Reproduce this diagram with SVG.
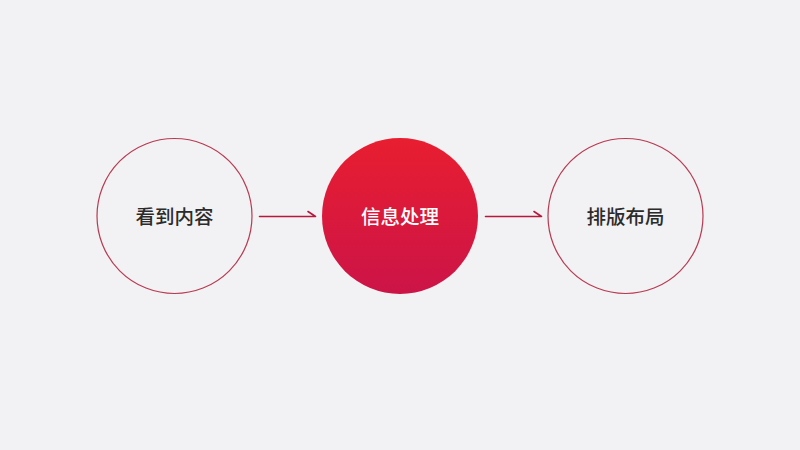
<svg xmlns="http://www.w3.org/2000/svg" width="800" height="450" viewBox="0 0 800 450">
<defs>
<linearGradient id="g" x1="0" y1="0" x2="0" y2="1">
<stop offset="0" stop-color="#e81e30"/>
<stop offset="1" stop-color="#cc1448"/>
</linearGradient>
<style>
.ring{fill:none;stroke:#b83a52;stroke-width:1.2}
.t{font-family:"Noto Sans CJK SC","Noto Sans",sans-serif;font-size:19.5px;font-weight:500;text-anchor:middle;dominant-baseline:central}
.c{fill:none;stroke:#b51a3e;stroke-width:1.6;stroke-linecap:round;stroke-linejoin:round}
</style>
</defs>
<rect width="800" height="450" fill="#f2f1f3"/>
<g id="n1">
<circle class="ring" cx="174.5" cy="216" r="77.5"/>
<text class="t" x="174.5" y="215" fill="#2b2b2b">看到内容</text>
</g>
<g id="n2">
<circle cx="400" cy="216" r="78" fill="url(#g)"/>
<text class="t" x="400" y="215" fill="#ffffff">信息处理</text>
</g>
<g id="n3">
<circle class="ring" cx="625.5" cy="216" r="77.5"/>
<text class="t" x="625.5" y="215" fill="#2b2b2b">排版布局</text>
</g>
<g id="connectors">
<path class="c" d="M259.5 216.5H315.5L308 211.5"/>
<path class="c" d="M485.5 216.5H541.5L534 211.5"/>
</g>
</svg>
